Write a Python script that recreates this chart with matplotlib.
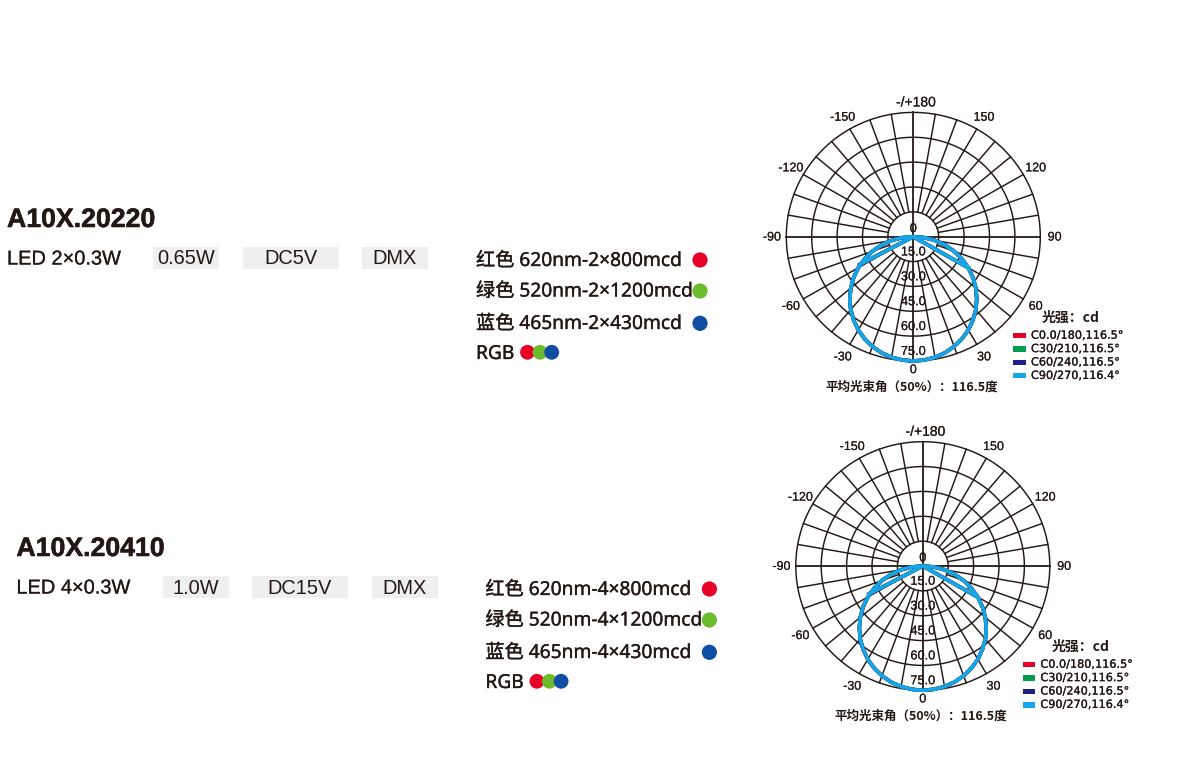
import matplotlib
matplotlib.use("Agg")
import numpy as np
import matplotlib.pyplot as plt
from matplotlib.patches import Rectangle, Circle
import matplotlib.patheffects as pe

# ---------- data ----------
products = ["A10X.20220", "A10X.20410"]
led_specs = ["LED 2×0.3W", "LED 4×0.3W"]
powers = ["0.65W", "1.0W"]
voltages = ["DC5V", "DC15V"]
controls = ["DMX", "DMX"]
red_specs = ["红色 620nm-2×800mcd", "红色 620nm-4×800mcd"]
green_specs = ["绿色 520nm-2×1200mcd", "绿色 520nm-4×1200mcd"]
blue_specs = ["蓝色 465nm-2×430mcd", "蓝色 465nm-4×430mcd"]

# luminous intensity (gamma in degrees, cd)
gamma_half = [0, 5, 10, 15, 20, 25, 30, 35, 40, 45, 50, 55, 60, 65, 70, 75, 80, 85, 90]
c0_cd = [75, 74.7, 73.9, 72.5, 70.5, 68, 65, 61.4, 57.5, 53, 48.2, 43, 37.5, 31.7, 25.7, 19.4, 13, 6.5, 0]
c30_cd = [75, 74.7, 73.9, 72.5, 70.5, 68, 65, 61.4, 57.5, 53, 48.2, 43, 37.5, 31.7, 25.7, 19.4, 13, 6.5, 0]
c60_cd = [75, 74.7, 73.9, 72.5, 70.5, 68, 65, 61.4, 57.5, 53, 48.2, 43, 37.5, 31.7, 25.7, 19.4, 13, 6.5, 0]
c90_cd = [75, 74.7, 73.9, 72.5, 70.5, 68, 65, 61.4, 57.5, 53, 48.2, 43, 37.5, 31.7, 25.7, 19.4, 13, 6.5, 0]
cutoff_left = [-62, 36.0]    # end of the straight return stroke (gamma, cd)
cutoff_right = [60, 37.5]

series_names = ["C0.0/180,116.5°", "C30/210,116.5°", "C60/240,116.5°", "C90/270,116.4°"]
series_colors = ["#e60028", "#009b4c", "#1d2088", "#14a6e6"]
series_values = [c0_cd, c30_cd, c60_cd, c90_cd]

ring_values = [15, 30, 45, 60, 75]
ring_labels = ["15.0", "30.0", "45.0", "60.0", "75.0"]
spoke_angles = list(range(-170, 190, 10))
angle_ticks = [-150, -120, -90, -60, -30, 30, 60, 90, 120, 150]
footer = "平均光束角（50%）：116.5度"
legend_title = "光强：cd"

# ---------- layout (pixels) ----------
W, H = 1200, 773
INK = "#231815"
LATIN = ["Liberation Sans", "Noto Sans CJK SC"]
CJK = ["Noto Sans CJK SC", "DejaVu Sans"]
BODY = ["Noto Sans", "Noto Sans CJK SC"]
offsets = [(0, 0), (9.4, 329)]
centers = [(913.3, 236.7), (922.8, 566.0)]
RX, RY = 127.0, 124.3


def heavy(w):
    return [pe.withStroke(linewidth=w, foreground=INK)]


fig = plt.figure(figsize=(W / 100, H / 100), dpi=100)
page = fig.add_axes([0, 0, 1, 1])
page.set_xlim(0, W)
page.set_ylim(H, 0)
page.axis("off")


def polar_xy(gamma_deg, r):
    a = np.radians(gamma_deg)
    return np.asarray(r) * np.sin(a), -np.asarray(r) * np.cos(a)


def draw_polar(cx, cy):
    ax = fig.add_axes([(cx - RX) / W, 1 - (cy + RY) / H, 2 * RX / W, 2 * RY / H])
    ax.set_xlim(-75, 75)
    ax.set_ylim(-75, 75)
    ax.axis("off")
    t = np.linspace(0, 2 * np.pi, 361)
    for r in ring_values:
        ax.plot(r * np.cos(t), r * np.sin(t), color=INK, lw=1.05, clip_on=False, zorder=1)
    for g in spoke_angles:
        if g in (90, 180, -90, 0):
            continue
        x, y = polar_xy(g, np.array([15, 75]))
        ax.plot(x, y, color=INK, lw=1.05, clip_on=False, zorder=1)
    ax.plot([-75, 75], [0, 0], color=INK, lw=1.3, clip_on=False, zorder=1)
    ax.plot([0, 0], [-75, 75], color=INK, lw=1.3, clip_on=False, zorder=1)

    for vals, col in zip(series_values, series_colors):
        g = np.array(gamma_half)
        v = np.array(vals)
        gg = np.concatenate([[cutoff_left[0]], -g[::-1], g[1:], [cutoff_right[0]]])
        rr = np.concatenate([[cutoff_left[1]], v[::-1], v[1:], [cutoff_right[1]]])
        x, y = polar_xy(gg, rr)
        ax.plot(x, y, color=col, lw=2.6, clip_on=False, zorder=3, solid_joinstyle="round")

    for r, lab in zip(ring_values, ring_labels):
        ax.text(0, -(r - 5.5), lab, ha="center", va="center", family=LATIN, fontsize=9.2,
                color=INK, zorder=4, path_effects=heavy(0.12))
    ax.text(0, 4.6, "0", ha="center", va="center", family=LATIN, fontsize=9.2, color=INK,
            zorder=4, path_effects=heavy(0.12))
    for a in angle_ticks:
        x, y = polar_xy(a, 83.5)
        ax.text(x, y - 0.5, str(a), ha="center", va="center", family=LATIN, fontsize=9,
                color=INK, path_effects=heavy(0.12))
    ax.text(1.5, 81, "-/+180", ha="center", va="center", family=LATIN, fontsize=10,
            color=INK, path_effects=heavy(0.12))
    ax.text(0, -80.5, "0", ha="center", va="center", family=LATIN, fontsize=9, color=INK,
            path_effects=heavy(0.12))


def draw_legend(dx, dy):
    page.text(1071 + dx, 317.8 + dy, legend_title, ha="center", va="center", family=CJK,
              fontsize=10, fontweight="bold", color=INK)
    for i, (n, c) in enumerate(zip(series_names, series_colors)):
        y = 335.7 + 13.4 * i + dy
        page.add_patch(Rectangle((1013.3 + dx, y - 2.6), 12.7, 5.2, color=c, lw=0))
        page.text(1031 + dx, y, n, ha="left", va="center", family="DejaVu Sans",
                  fontsize=8.1, color=INK, path_effects=heavy(0.2))
    page.text(911.8 + dx, 387 + dy, footer, ha="center", va="center", family=CJK,
              fontsize=9, fontweight="bold", color=INK)


box_spans = [[(153, 219), (243, 339), (362, 428)], [(163, 228.5), (252, 348), (371.5, 437.5)]]
for i in range(2):
    dx, dy = offsets[i]
    page.text(7 + dx, 220 + dy, products[i], ha="left", va="center", family=LATIN,
              fontsize=19.2, fontweight="bold", color=INK, path_effects=heavy(0.4))
    page.text(7 + dx, 259 + dy, led_specs[i], ha="left", va="center", family=LATIN,
              fontsize=14.4, color=INK, path_effects=heavy(0.15))
    for (x0, x1), s in zip(box_spans[i], [powers[i], voltages[i], controls[i]]):
        page.add_patch(Rectangle((x0, 246.5 + dy), x1 - x0, 22.5, color="#efefef", lw=0, zorder=0))
        page.text((x0 + x1) / 2, 259 + dy, s, ha="center", va="center", family=LATIN,
                  fontsize=14.4, color=INK)
    for y, s in zip([261, 291.5, 324], [red_specs[i], green_specs[i], blue_specs[i]]):
        page.text(476 + dx, y + dy, s, ha="left", va="center", family=BODY, fontsize=13.8,
                  fontweight="medium", color=INK, path_effects=heavy(0.25))
    page.text(476 + dx, 354 + dy, "RGB", ha="left", va="center", family=BODY, fontsize=13.8,
              fontweight="medium", color=INK, path_effects=heavy(0.25))
    for y, c in zip([260, 291, 323.3], ["#e60028", "#6cbb2c", "#0f4ea2"]):
        page.add_patch(Circle((700 + dx, y + dy), 7.6, color=c, lw=0))
    for x, c in zip([527.5, 540, 551.7], ["#e60028", "#6cbb2c", "#0f4ea2"]):
        page.add_patch(Circle((x + dx, 352.3 + dy), 7.4, color=c, lw=0))
    draw_polar(*centers[i])
    draw_legend(dx, dy)

fig.savefig("out.png", dpi=100)
